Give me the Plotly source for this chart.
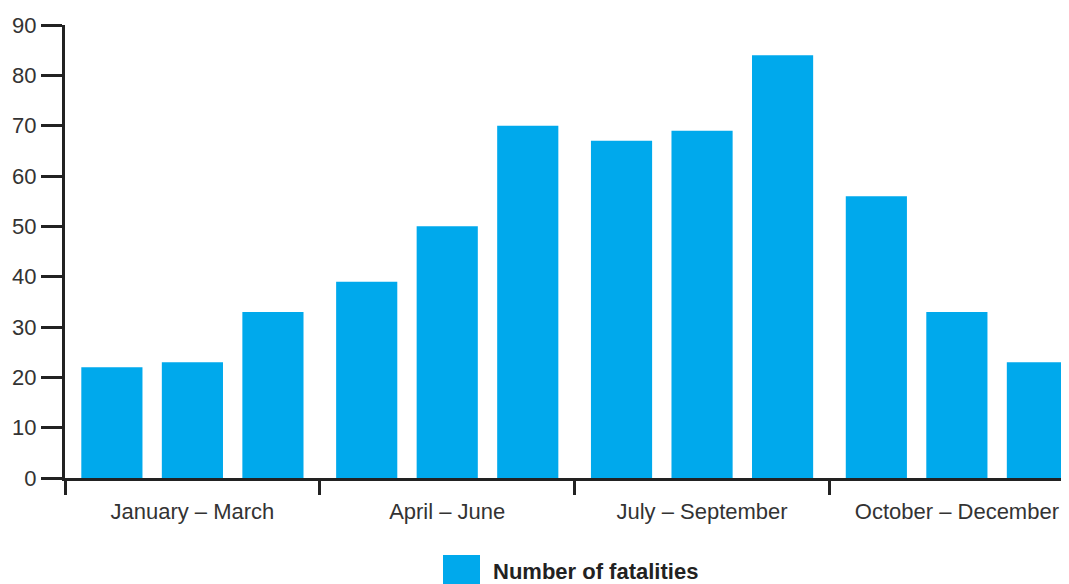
import plotly.graph_objects as go

# data
quarters = ["January – March", "April – June", "July – September", "October – December"]
fatalities = [22, 23, 33, 39, 50, 70, 67, 69, 84, 56, 33, 23]
series_name = "Number of fatalities"

bar_color = "#00A9EC"
axis_color = "#222222"
text_color = "#333333"
family = "Liberation Sans, Arial, sans-serif"

# each quarter is one unit on the x axis, three monthly bars inside it
n_per_group = 3
x_pos = [i // n_per_group + 0.5 + (i % n_per_group - 1) * 0.316 for i in range(len(fatalities))]
group_centers = [g + 0.5 for g in range(len(quarters))]
dividers = list(range(len(quarters)))

fig = go.Figure()
fig.add_trace(go.Bar(x=x_pos, y=fatalities, width=0.24, marker=dict(color=bar_color, line_width=0),
                     name=series_name, showlegend=False))
# invisible trace to carry the quarter labels on a second x axis
fig.add_trace(go.Scatter(x=group_centers, y=[0] * len(quarters), xaxis="x2", mode="markers",
                         marker=dict(opacity=0), showlegend=False, hoverinfo="skip"))

xrange = [0, 3.94]

# the page body has an 8px margin, so the figure is 8px smaller and margins shifted
fig.update_layout(
    width=1061, height=576,
    margin=dict(l=57, r=0, t=17, b=106),
    plot_bgcolor="white", paper_bgcolor="white",
    font=dict(family=family, size=21, color=text_color),
    xaxis=dict(range=xrange, tickvals=dividers, showticklabels=False, ticks="outside",
               ticklen=14, tickwidth=3, tickcolor=axis_color, showline=True, linewidth=3,
               linecolor=axis_color, showgrid=False, zeroline=False),
    xaxis2=dict(overlaying="x", side="bottom", range=xrange, tickvals=group_centers,
                ticktext=quarters, ticks="outside", ticklen=14, tickcolor="rgba(0,0,0,0)",
                showline=False, showgrid=False, zeroline=False,
                tickfont=dict(family=family, size=22, color=text_color)),
    yaxis=dict(range=[0, 90], tickvals=list(range(0, 91, 10)), ticks="outside", ticklen=21,
               tickwidth=3, tickcolor=axis_color, showline=True, linewidth=3,
               linecolor=axis_color, showgrid=False, zeroline=False,
               tickfont=dict(family=family, size=22, color=text_color)),
)

# legend drawn by hand so the swatch is as large as in the reference
fig.add_shape(type="rect", xref="paper", yref="paper", x0=(443 - 65) / 1004, x1=(480 - 65) / 1004,
              y0=-(555 - 478) / 453, y1=-(600 - 478) / 453, fillcolor=bar_color, line_width=0)
fig.add_annotation(text="<b>" + series_name + "</b>", xref="paper", yref="paper",
                   x=(491 - 65) / 1004, y=-(571 - 478) / 453, xanchor="left", yanchor="middle",
                   showarrow=False, font=dict(family=family, size=22, color="#222222"))

fig.write_html("out.html")
